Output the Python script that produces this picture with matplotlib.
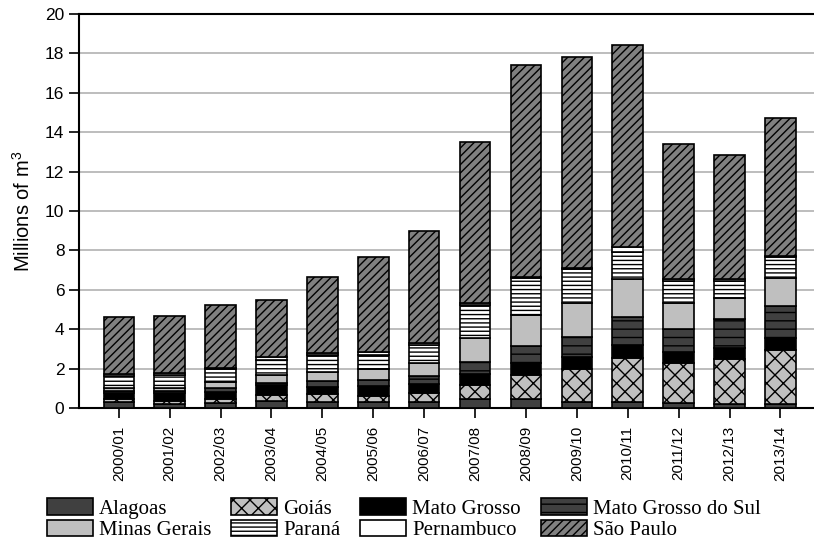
import matplotlib
matplotlib.use("Agg")
import matplotlib.pyplot as plt
import numpy as np

plt.rcParams['font.family'] = ['Liberation Sans', 'DejaVu Sans']
plt.rcParams['mathtext.default'] = 'regular'
plt.rcParams['hatch.linewidth'] = 1.0

years = ["2000/01", "2001/02", "2002/03", "2003/04", "2004/05", "2005/06", "2006/07",
         "2007/08", "2008/09", "2009/10", "2010/11", "2011/12", "2012/13", "2013/14"]

alagoas = [0.30, 0.22, 0.25, 0.37, 0.32, 0.29, 0.32, 0.44, 0.45, 0.28, 0.32, 0.27, 0.19, 0.20]
goias = [0.18, 0.15, 0.21, 0.29, 0.39, 0.31, 0.43, 0.73, 1.23, 1.68, 2.23, 2.00, 2.28, 2.74]
mato_grosso = [0.28, 0.41, 0.37, 0.51, 0.37, 0.52, 0.47, 0.56, 0.59, 0.61, 0.65, 0.56, 0.56, 0.60]
mato_grosso_sul = [0.12, 0.10, 0.17, 0.12, 0.31, 0.30, 0.40, 0.62, 0.88, 1.02, 1.44, 1.18, 1.47, 1.64]
minas_gerais = [0.13, 0.15, 0.30, 0.39, 0.45, 0.56, 0.68, 1.19, 1.55, 1.72, 1.91, 1.30, 1.07, 1.40]
parana = [0.59, 0.65, 0.70, 0.76, 0.85, 0.71, 0.90, 1.69, 1.90, 1.73, 1.38, 1.15, 0.89, 1.10]
pernambuco = [0.11, 0.08, 0.05, 0.13, 0.10, 0.14, 0.11, 0.08, 0.07, 0.05, 0.23, 0.07, 0.10, 0.05]
sao_paulo = [2.89, 2.91, 3.18, 2.90, 3.86, 4.83, 5.67, 8.19, 10.73, 10.71, 10.27, 6.87, 6.28, 6.99]

states = ["Alagoas", "Goiás", "Mato Grosso", "Mato Grosso do Sul",
          "Minas Gerais", "Paraná", "Pernambuco", "São Paulo"]
series = [alagoas, goias, mato_grosso, mato_grosso_sul, minas_gerais, parana, pernambuco, sao_paulo]
colors = ["#404040", "#c0c0c0", "#000000", "#404040", "#bfbfbf", "#ffffff", "#ffffff", "#808080"]
hatches = [None, "xx", None, "--", None, "----", None, "////"]

fig = plt.figure(figsize=(8.14, 5.47), dpi=100)
ax = fig.add_axes([79 / 814, 1 - 408 / 547, 1 - 79 / 814, (408 - 14) / 547])

x = np.arange(len(years))
bottom = np.zeros(len(years))
handles = []
for name, vals, fc, h in zip(states, series, colors, hatches):
    vals = np.array(vals)
    b = ax.bar(x, vals, 0.6, bottom=bottom, color=fc, edgecolor="black",
               hatch=h, linewidth=1.2, zorder=3, label=name)
    handles.append(b)
    bottom += vals

ax.set_xlim(-0.782, 13.66)
ax.set_ylim(0, 20)
ax.set_yticks(np.arange(0, 21, 2))
ax.yaxis.grid(True, color="#b8b8b8", linewidth=1.3, zorder=0)
ax.set_axisbelow(True)
ax.set_xticks(x)
ax.set_xticklabels(years, rotation=90, fontsize=11)
ax.tick_params(axis="y", labelsize=12.5, direction="out", length=7, width=1.2)
ax.tick_params(axis="x", direction="out", length=7, width=1.2, pad=6)
for s in ["left", "bottom", "top"]:
    ax.spines[s].set_linewidth(1.5)
ax.spines["right"].set_visible(False)
ax.set_ylabel("Millions of m$^{3}$", fontsize=14.5, labelpad=8)

order = [0, 4, 1, 5, 2, 6, 3, 7]
fig.legend([handles[i] for i in order], [states[i] for i in order], ncol=4,
           loc="upper left", bbox_to_anchor=(47 / 814, 1 - 498 / 547),
           prop={"family": "Liberation Serif", "size": 15}, frameon=False,
           handlelength=2.2, handleheight=0.85, handletextpad=0.3,
           columnspacing=0.95, labelspacing=0.05, borderpad=0, borderaxespad=0)

fig.savefig("out.png", dpi=100)
